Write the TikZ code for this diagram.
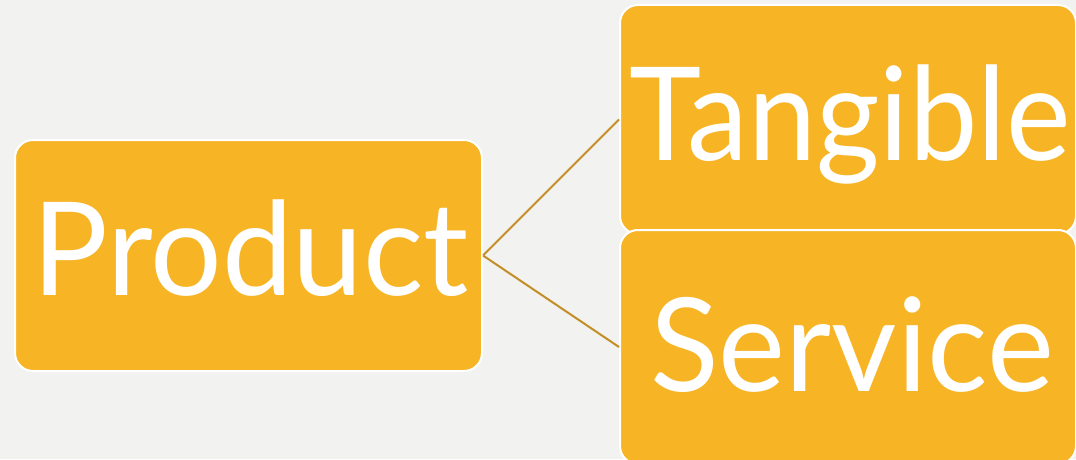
\documentclass[tikz,border=0pt]{standalone}
\usepackage{fontspec}
\setmainfont{Lato}
\definecolor{bg}{RGB}{242,242,240}
\definecolor{boxfill}{RGB}{247,180,37}
\definecolor{linkc}{RGB}{196,142,38}
\begin{document}
\begin{tikzpicture}[x=1pt,y=1pt,
  box/.style={draw=white, line width=2pt, fill=boxfill, rounded corners=18pt,
    text=white, font=\fontsize{130}{130}\selectfont, inner sep=0pt},
  link/.style={draw=linkc, line width=2pt}]
\useasboundingbox (0,0) rectangle (1076,459);
\clip (0,0) rectangle (1076,459);
\fill[bg] (0,0) rectangle (1076,459);
\node[box, minimum width=467pt, minimum height=231pt, text height=93pt, text depth=14pt] (prod) at (248.5,203.5) {\hspace{4pt}\scalebox{0.972}[1]{Product}};
\node[box, minimum width=456pt, minimum height=229pt, text height=93pt, text depth=12pt] (tang) at (848,339.5) {\hspace{4pt}\scalebox{0.94}[1]{Tangible}};
\node[box, minimum width=456pt, minimum height=234pt, text height=93pt, text depth=5pt] (serv) at (848,112) {\hspace{8pt}\scalebox{0.975}[1]{Service}};
\draw[link] (prod.east) -- (tang.west);
\draw[link] (prod.east) -- (serv.west);
\end{tikzpicture}
\end{document}
